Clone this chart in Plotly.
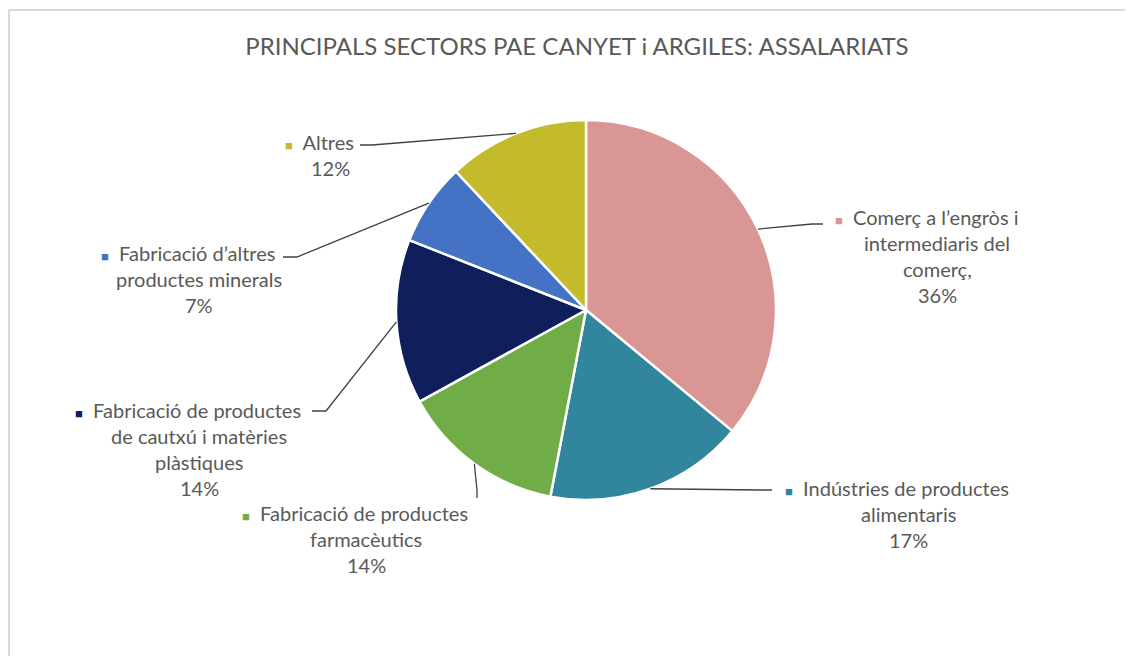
import math
import plotly.graph_objects as go

W, H = 1133, 656
PAGE_OFF = 8  # browser body margin around the plot div

sectors = [
    "Comerç a l’engròs i intermediaris del comerç,",
    "Indústries de productes alimentaris",
    "Fabricació de productes farmacèutics",
    "Fabricació de productes de cautxú i matèries plàstiques",
    "Fabricació d’altres productes minerals",
    "Altres",
]
shares = [36, 17, 14, 14, 7, 12]
colors = ["#D99694", "#31859C", "#70AD47", "#0E1F5B", "#4472C4", "#C3BB2B"]

# wrapped label lines, as in the original chart
label_lines = [
    ["Comerç a l’engròs i", "intermediaris del", "comerç,", "36%"],
    ["Indústries de productes", "alimentaris", "17%"],
    ["Fabricació de productes", "farmacèutics", "14%"],
    ["Fabricació de productes", "de cautxú i matèries", "plàstiques", "14%"],
    ["Fabricació d’altres", "productes minerals", "7%"],
    ["Altres", "12%"],
]

# label placement (pixels): text centre x, first line y, leader anchor, elbow
label_pos = [
    (937, 217, (823, 224), (812, 224)),
    (908, 488, (772, 490), (760, 490)),
    (366, 513, (477, 498), (477, 490)),
    (199, 410, (312, 411), (326, 411)),
    (199, 253, (283, 257), (297, 257)),
    (330, 142, (360, 145), (372, 145)),
]

CX, CY, R = 586, 310, 190
LINE_H = 26
FONT = "Lato, 'Open Sans', sans-serif"
TEXT_COL = "#595959"


def px(x):
    return (x - PAGE_OFF) / W


def py(y):
    return 1 - (y - PAGE_OFF) / H


fig = go.Figure(go.Pie(
    labels=sectors,
    values=shares,
    marker=dict(colors=colors, line=dict(color="white", width=2.5)),
    sort=False,
    direction="clockwise",
    rotation=0,
    textinfo="none",
    hoverinfo="label+percent",
    showlegend=False,
    domain=dict(x=[px(CX - R), px(CX + R)], y=[py(CY + R), py(CY - R)]),
))

annotations = []
shapes = []
total = sum(shares)
cum = 0
for i, v in enumerate(shares):
    mid = (cum + v / 2) / total * 2 * math.pi
    cum += v
    ex = CX + R * math.sin(mid)
    ey = CY - R * math.cos(mid)
    xc, y0, anchor, elbow = label_pos[i]
    for k, line in enumerate(label_lines[i]):
        txt = line
        x = xc
        if k == 0:
            txt = f'<span style="color:{colors[i]};font-size:13px">■</span>  ' + line
            x = xc - 11
        annotations.append(dict(
            x=px(x), y=py(y0 + k * LINE_H), xref="paper", yref="paper",
            text=txt, showarrow=False, xanchor="center", yanchor="middle",
            font=dict(family=FONT, size=20, color=TEXT_COL),
        ))
    path = (f"M {px(anchor[0])},{py(anchor[1])} L {px(elbow[0])},{py(elbow[1])} "
            f"L {px(ex)},{py(ey)}")
    shapes.append(dict(type="path", path=path, xref="paper", yref="paper",
                       line=dict(color="#404040", width=1.3)))

# thin grey frame of the chart area (runs off the right and bottom edges)
shapes.append(dict(type="line", xref="paper", yref="paper",
                   x0=px(9), y0=py(10), x1=px(1150), y1=py(10),
                   line=dict(color="#D9D9D9", width=2)))
shapes.append(dict(type="line", xref="paper", yref="paper",
                   x0=px(9), y0=py(10), x1=px(9), y1=py(670),
                   line=dict(color="#D9D9D9", width=2)))

fig.update_layout(
    width=W, height=H,
    margin=dict(l=0, r=0, t=0, b=0),
    paper_bgcolor="white",
    title=dict(text="PRINCIPALS SECTORS PAE CANYET i ARGILES: ASSALARIATS",
               x=px(577), xanchor="center", y=py(47), yanchor="middle",
               font=dict(family=FONT, size=24, color=TEXT_COL)),
    annotations=annotations,
    shapes=shapes,
)

fig.write_html("out.html")
